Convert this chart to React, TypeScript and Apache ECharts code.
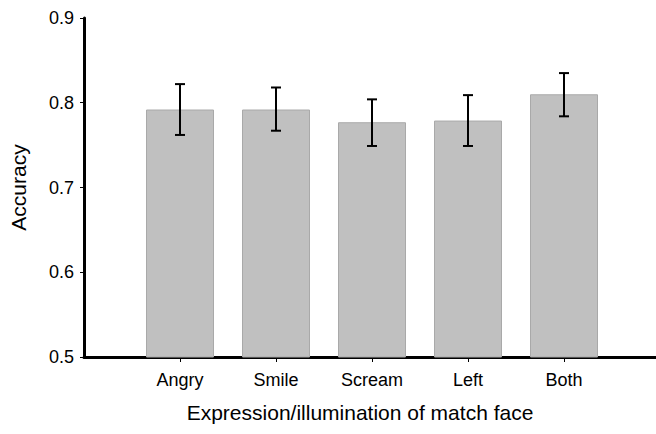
import React, { useEffect, useRef } from "react";
import * as echarts from "echarts";

const categories = ["", "Angry", "Smile", "Scream", "Left", "Both", ""];
const means = [0.792, 0.792, 0.777, 0.779, 0.810];
const errLow = [0.762, 0.767, 0.749, 0.749, 0.784];
const errHigh = [0.822, 0.818, 0.804, 0.809, 0.835];
const yTicks = [0.5, 0.6, 0.7, 0.8, 0.9];

export default function App() {
  const ref = useRef<HTMLDivElement>(null);
  useEffect(() => {
    if (!ref.current) return;
    const chart = echarts.init(ref.current, null, { renderer: "svg" });
    const font = "'Liberation Sans', Arial, Helvetica, sans-serif";
    const barData = means.map((v, i) => [categories[i + 1], v]);
    const errData = means.map((_, i) => [categories[i + 1], errLow[i], errHigh[i]]);
    chart.setOption({
      animation: false,
      backgroundColor: "#ffffff",
      grid: {
        left: 84,
        width: 576,
        top: 18,
        height: 339,
        containLabel: false,
        outerBoundsMode: "none",
      },
      xAxis: {
        type: "category",
        data: categories,
        boundaryGap: false,
        name: "Expression/illumination of match face",
        nameLocation: "middle",
        nameGap: 45,
        nameTextStyle: {
          fontFamily: font,
          fontSize: 21,
          color: "#000",
          padding: [0, 24, 0, 0],
        },
        axisLine: { lineStyle: { color: "#000", width: 3 } },
        axisTick: {
          show: true,
          length: 5,
          lineStyle: { color: "#000", width: 1 },
          interval: (idx: number) => idx > 0 && idx < categories.length - 1,
        },
        axisLabel: {
          fontFamily: font,
          fontSize: 18,
          color: "#000",
          margin: 14,
          interval: 0,
        },
        splitLine: { show: false },
      },
      yAxis: {
        type: "value",
        min: yTicks[0],
        max: yTicks[yTicks.length - 1],
        interval: 0.1,
        name: "Accuracy",
        nameLocation: "middle",
        nameGap: 55,
        nameTextStyle: { fontFamily: font, fontSize: 21, color: "#000" },
        axisLine: { show: true, lineStyle: { color: "#000", width: 3 } },
        axisTick: { show: true, length: 4, lineStyle: { color: "#000", width: 1 } },
        axisLabel: {
          fontFamily: font,
          fontSize: 18,
          color: "#000",
          margin: 10,
          formatter: (v: number) => v.toFixed(1),
        },
        splitLine: { show: false },
      },
      series: [
        {
          type: "bar",
          data: barData,
          barWidth: 68,
          itemStyle: { color: "#c0c0c0", borderColor: "#a9a9a9", borderWidth: 1 },
          z: 1,
        },
        {
          type: "custom",
          data: errData,
          z: 3,
          renderItem: (params: any, api: any) => {
            const x = api.value(0);
            const lo = api.coord([x, api.value(1)]);
            const hi = api.coord([x, api.value(2)]);
            const cx = lo[0];
            const hw = 5;
            const style = { stroke: "#000", lineWidth: 2 };
            return {
              type: "group",
              children: [
                { type: "line", shape: { x1: cx, y1: lo[1], x2: cx, y2: hi[1] }, style },
                { type: "line", shape: { x1: cx - hw, y1: lo[1], x2: cx + hw, y2: lo[1] }, style },
                { type: "line", shape: { x1: cx - hw, y1: hi[1], x2: cx + hw, y2: hi[1] }, style },
              ],
            };
          },
        },
      ],
    });
    return () => chart.dispose();
  }, []);
  return (
    <div
      ref={ref}
      style={{ position: "fixed", left: 0, top: 0, width: 656, height: 434 }}
    />
  );
}
